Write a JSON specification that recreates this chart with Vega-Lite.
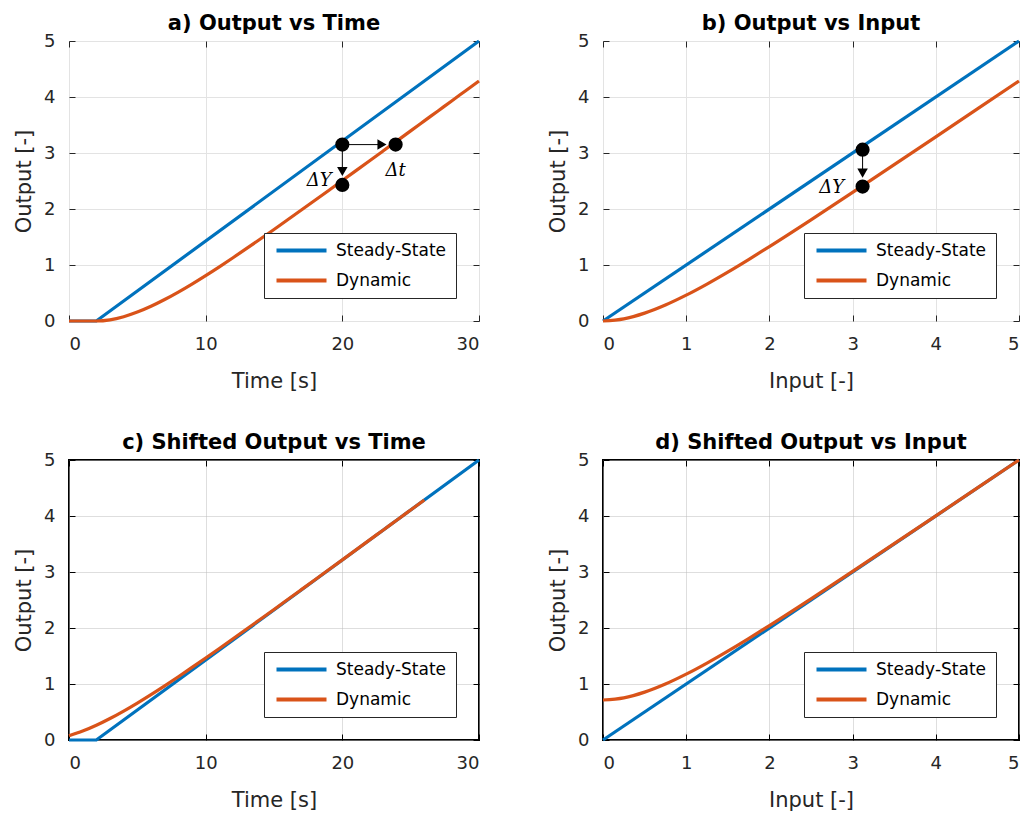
{
  "$schema": "https://vega.github.io/schema/vega-lite/v6.json",
  "padding": {"left": 12, "top": 12, "right": 0, "bottom": 0},
  "background": "white",
  "datasets": {
    "a_ss": [
      {"x": 0, "y": 0, "s": "Steady-State"}, {"x": 2, "y": 0, "s": "Steady-State"}, {"x": 30, "y": 5, "s": "Steady-State"}
    ],
    "a_dyn": [
      {"x": 0, "y": 0, "s": "Dynamic"}, {"x": 1, "y": 0, "s": "Dynamic"}, {"x": 2, "y": 0, "s": "Dynamic"},
      {"x": 3, "y": 0.0206, "s": "Dynamic"}, {"x": 4, "y": 0.0761, "s": "Dynamic"}, {"x": 5, "y": 0.1588, "s": "Dynamic"},
      {"x": 6, "y": 0.2628, "s": "Dynamic"}, {"x": 7, "y": 0.3832, "s": "Dynamic"}, {"x": 8, "y": 0.5165, "s": "Dynamic"},
      {"x": 9, "y": 0.6598, "s": "Dynamic"}, {"x": 10, "y": 0.811, "s": "Dynamic"}, {"x": 11, "y": 0.9681, "s": "Dynamic"},
      {"x": 12, "y": 1.1301, "s": "Dynamic"}, {"x": 13, "y": 1.2957, "s": "Dynamic"}, {"x": 14, "y": 1.4641, "s": "Dynamic"},
      {"x": 15, "y": 1.6348, "s": "Dynamic"}, {"x": 16, "y": 1.8073, "s": "Dynamic"}, {"x": 17, "y": 1.9811, "s": "Dynamic"},
      {"x": 18, "y": 2.1559, "s": "Dynamic"}, {"x": 19, "y": 2.3316, "s": "Dynamic"}, {"x": 20, "y": 2.5079, "s": "Dynamic"},
      {"x": 21, "y": 2.6848, "s": "Dynamic"}, {"x": 22, "y": 2.862, "s": "Dynamic"}, {"x": 23, "y": 3.0395, "s": "Dynamic"},
      {"x": 24, "y": 3.2172, "s": "Dynamic"}, {"x": 25, "y": 3.3951, "s": "Dynamic"}, {"x": 26, "y": 3.5732, "s": "Dynamic"},
      {"x": 27, "y": 3.7514, "s": "Dynamic"}, {"x": 28, "y": 3.9296, "s": "Dynamic"}, {"x": 29, "y": 4.108, "s": "Dynamic"},
      {"x": 30, "y": 4.2864, "s": "Dynamic"}
    ],
    "c_dyn": [
      {"x": 0, "y": 0.0761, "s": "Dynamic"}, {"x": 1, "y": 0.1588, "s": "Dynamic"}, {"x": 2, "y": 0.2628, "s": "Dynamic"},
      {"x": 3, "y": 0.3832, "s": "Dynamic"}, {"x": 4, "y": 0.5165, "s": "Dynamic"}, {"x": 5, "y": 0.6598, "s": "Dynamic"},
      {"x": 6, "y": 0.811, "s": "Dynamic"}, {"x": 7, "y": 0.9681, "s": "Dynamic"}, {"x": 8, "y": 1.1301, "s": "Dynamic"},
      {"x": 9, "y": 1.2957, "s": "Dynamic"}, {"x": 10, "y": 1.4641, "s": "Dynamic"}, {"x": 11, "y": 1.6348, "s": "Dynamic"},
      {"x": 12, "y": 1.8073, "s": "Dynamic"}, {"x": 13, "y": 1.9811, "s": "Dynamic"}, {"x": 14, "y": 2.1559, "s": "Dynamic"},
      {"x": 15, "y": 2.3316, "s": "Dynamic"}, {"x": 16, "y": 2.5079, "s": "Dynamic"}, {"x": 17, "y": 2.6848, "s": "Dynamic"},
      {"x": 18, "y": 2.862, "s": "Dynamic"}, {"x": 19, "y": 3.0395, "s": "Dynamic"}, {"x": 20, "y": 3.2172, "s": "Dynamic"},
      {"x": 21, "y": 3.3951, "s": "Dynamic"}, {"x": 22, "y": 3.5732, "s": "Dynamic"}, {"x": 23, "y": 3.7514, "s": "Dynamic"},
      {"x": 24, "y": 3.9296, "s": "Dynamic"}, {"x": 25, "y": 4.108, "s": "Dynamic"}, {"x": 26, "y": 4.2864, "s": "Dynamic"}
    ],
    "bd_ss": [
      {"x": 0, "y": 0, "s": "Steady-State"}, {"x": 5, "y": 5, "s": "Steady-State"}
    ],
    "b_dyn": [
      {"x": 0, "y": 0, "s": "Dynamic"}, {"x": 0.25, "y": 0.0391, "s": "Dynamic"}, {"x": 0.5, "y": 0.1404, "s": "Dynamic"},
      {"x": 0.75, "y": 0.2857, "s": "Dynamic"}, {"x": 1, "y": 0.4618, "s": "Dynamic"}, {"x": 1.25, "y": 0.6598, "s": "Dynamic"},
      {"x": 1.5, "y": 0.8732, "s": "Dynamic"}, {"x": 1.75, "y": 1.0973, "s": "Dynamic"}, {"x": 2, "y": 1.3291, "s": "Dynamic"},
      {"x": 2.5, "y": 1.8073, "s": "Dynamic"}, {"x": 3, "y": 2.2964, "s": "Dynamic"}, {"x": 3.5, "y": 2.791, "s": "Dynamic"},
      {"x": 4, "y": 3.2883, "s": "Dynamic"}, {"x": 4.5, "y": 3.787, "s": "Dynamic"}, {"x": 5, "y": 4.2864, "s": "Dynamic"}
    ],
    "d_dyn": [
      {"x": 0, "y": 0.7143, "s": "Dynamic"}, {"x": 0.25, "y": 0.7534, "s": "Dynamic"}, {"x": 0.5, "y": 0.8547, "s": "Dynamic"},
      {"x": 0.75, "y": 0.9996, "s": "Dynamic"}, {"x": 1, "y": 1.1761, "s": "Dynamic"}, {"x": 1.25, "y": 1.3741, "s": "Dynamic"},
      {"x": 1.5, "y": 1.5875, "s": "Dynamic"}, {"x": 1.75, "y": 1.8116, "s": "Dynamic"}, {"x": 2, "y": 2.0434, "s": "Dynamic"},
      {"x": 2.5, "y": 2.5216, "s": "Dynamic"}, {"x": 3, "y": 3.0107, "s": "Dynamic"}, {"x": 3.5, "y": 3.5053, "s": "Dynamic"},
      {"x": 4, "y": 4.0026, "s": "Dynamic"}, {"x": 4.5, "y": 4.5013, "s": "Dynamic"}, {"x": 5, "y": 5.0007, "s": "Dynamic"}
    ]
  },
  "columns": 2,
  "spacing": {"row": 139, "column": 124},
  "bounds": "flush",
  "concat": [
    {
      "width": 410, "height": 280,
      "title": "a) Output vs Time",
      "view": {"stroke": "#7a7a7a", "strokeWidth": 1},
      "layer": [
        {
          "data": {"name": "a_ss"},
          "mark": {"type": "line", "strokeWidth": 3.2},
          "encoding": {
            "x": {"field": "x", "type": "quantitative", "scale": {"domain": [0, 30], "nice": false},
                  "axis": {"values": [0, 10, 20, 30], "title": "Time [s]", "gridColor": "#e3e3e3"}},
            "y": {"field": "y", "type": "quantitative", "scale": {"domain": [0, 5], "nice": false},
                  "axis": {"values": [0, 1, 2, 3, 4, 5], "title": "Output [-]", "gridColor": "#e3e3e3"}},
            "color": {"field": "s", "type": "nominal",
                      "scale": {"domain": ["Steady-State", "Dynamic"], "range": ["#0072BD", "#D95319"]},
                      "legend": {"title": null, "symbolType": "M-1,0H9", "symbolSize": 100}}
          }
        },
        {
          "data": {"name": "a_dyn"},
          "mark": {"type": "line", "strokeWidth": 3.2, "interpolate": "monotone"},
          "encoding": {
            "x": {"field": "x", "type": "quantitative", "axis": {"orient": "top", "values": [0, 10, 20, 30], "labels": false, "title": null, "grid": false}},
            "y": {"field": "y", "type": "quantitative", "axis": {"orient": "right", "values": [0, 1, 2, 3, 4, 5], "labels": false, "title": null, "grid": false}},
            "color": {"field": "s", "type": "nominal", "legend": {"title": null, "symbolType": "M-1,0H9", "symbolSize": 100}}
          }
        },
        {
          "data": {"values": [{"x": 20, "y": 3.15, "x2": 22.7, "y2": 3.15}, {"x": 20, "y": 3.15, "x2": 20, "y2": 2.7}]},
          "mark": {"type": "rule", "color": "black", "strokeWidth": 1},
          "encoding": {
            "x": {"field": "x", "type": "quantitative", "axis": null}, "x2": {"field": "x2"},
            "y": {"field": "y", "type": "quantitative", "axis": null}, "y2": {"field": "y2"}
          }
        },
        {
          "data": {"values": [{"x": 22.9, "y": 3.15}]},
          "mark": {"type": "point", "shape": "triangle-right", "filled": true, "color": "black", "opacity": 1, "size": 110},
          "encoding": {"x": {"field": "x", "type": "quantitative", "axis": null}, "y": {"field": "y", "type": "quantitative", "axis": null}}
        },
        {
          "data": {"values": [{"x": 20, "y": 2.67}]},
          "mark": {"type": "point", "shape": "triangle-down", "filled": true, "color": "black", "opacity": 1, "size": 110},
          "encoding": {"x": {"field": "x", "type": "quantitative", "axis": null}, "y": {"field": "y", "type": "quantitative", "axis": null}}
        },
        {
          "data": {"values": [{"x": 20, "y": 3.15}, {"x": 20, "y": 2.43}, {"x": 23.9, "y": 3.15}]},
          "mark": {"type": "circle", "color": "black", "opacity": 1, "size": 200},
          "encoding": {"x": {"field": "x", "type": "quantitative", "axis": null}, "y": {"field": "y", "type": "quantitative", "axis": null}}
        },
        {
          "data": {"values": [{"x": 18.3, "y": 2.5, "t": "ΔY"}, {"x": 23.9, "y": 2.68, "t": "Δt"}]},
          "mark": {"type": "text", "font": "DejaVu Serif", "fontSize": 18, "color": "black", "align": "center", "baseline": "middle", "fontStyle": "italic"},
          "encoding": {"x": {"field": "x", "type": "quantitative", "axis": null}, "y": {"field": "y", "type": "quantitative", "axis": null}, "text": {"field": "t"}}
        }
      ],
      "resolve": {"axis": {"x": "independent", "y": "independent"}}
    },
    {
      "width": 416, "height": 280,
      "title": "b) Output vs Input",
      "view": {"stroke": "#7a7a7a", "strokeWidth": 1},
      "layer": [
        {
          "data": {"name": "bd_ss"},
          "mark": {"type": "line", "strokeWidth": 3.2},
          "encoding": {
            "x": {"field": "x", "type": "quantitative", "scale": {"domain": [0, 5], "nice": false},
                  "axis": {"values": [0, 1, 2, 3, 4, 5], "title": "Input [-]", "gridColor": "#e3e3e3"}},
            "y": {"field": "y", "type": "quantitative", "scale": {"domain": [0, 5], "nice": false},
                  "axis": {"values": [0, 1, 2, 3, 4, 5], "title": "Output [-]", "gridColor": "#e3e3e3"}},
            "color": {"field": "s", "type": "nominal",
                      "scale": {"domain": ["Steady-State", "Dynamic"], "range": ["#0072BD", "#D95319"]},
                      "legend": {"title": null, "symbolType": "M-1,0H9", "symbolSize": 100}}
          }
        },
        {
          "data": {"name": "b_dyn"},
          "mark": {"type": "line", "strokeWidth": 3.2, "interpolate": "monotone"},
          "encoding": {
            "x": {"field": "x", "type": "quantitative", "axis": {"orient": "top", "values": [0, 1, 2, 3, 4, 5], "labels": false, "title": null, "grid": false}},
            "y": {"field": "y", "type": "quantitative", "axis": {"orient": "right", "values": [0, 1, 2, 3, 4, 5], "labels": false, "title": null, "grid": false}},
            "color": {"field": "s", "type": "nominal", "legend": {"title": null, "symbolType": "M-1,0H9", "symbolSize": 100}}
          }
        },
        {
          "data": {"values": [{"x": 3.12, "y": 3.06, "x2": 3.12, "y2": 2.6}]},
          "mark": {"type": "rule", "color": "black", "strokeWidth": 1},
          "encoding": {
            "x": {"field": "x", "type": "quantitative", "axis": null}, "x2": {"field": "x2"},
            "y": {"field": "y", "type": "quantitative", "axis": null}, "y2": {"field": "y2"}
          }
        },
        {
          "data": {"values": [{"x": 3.12, "y": 2.64}]},
          "mark": {"type": "point", "shape": "triangle-down", "filled": true, "color": "black", "opacity": 1, "size": 110},
          "encoding": {"x": {"field": "x", "type": "quantitative", "axis": null}, "y": {"field": "y", "type": "quantitative", "axis": null}}
        },
        {
          "data": {"values": [{"x": 3.12, "y": 3.06}, {"x": 3.12, "y": 2.4}]},
          "mark": {"type": "circle", "color": "black", "opacity": 1, "size": 200},
          "encoding": {"x": {"field": "x", "type": "quantitative", "axis": null}, "y": {"field": "y", "type": "quantitative", "axis": null}}
        },
        {
          "data": {"values": [{"x": 2.75, "y": 2.37, "t": "ΔY"}]},
          "mark": {"type": "text", "font": "DejaVu Serif", "fontSize": 18, "color": "black", "align": "center", "baseline": "middle", "fontStyle": "italic"},
          "encoding": {"x": {"field": "x", "type": "quantitative", "axis": null}, "y": {"field": "y", "type": "quantitative", "axis": null}, "text": {"field": "t"}}
        }
      ],
      "resolve": {"axis": {"x": "independent", "y": "independent"}}
    },
    {
      "width": 410, "height": 280,
      "title": "c) Shifted Output vs Time",
      "view": {"stroke": "#000000", "strokeWidth": 2},
      "layer": [
        {
          "data": {"name": "a_ss"},
          "mark": {"type": "line", "strokeWidth": 3.2},
          "encoding": {
            "x": {"field": "x", "type": "quantitative", "scale": {"domain": [0, 30], "nice": false},
                  "axis": {"values": [0, 10, 20, 30], "title": "Time [s]", "gridColor": "#bdbdbd", "gridDash": [1, 1], "tickColor": "#000"}},
            "y": {"field": "y", "type": "quantitative", "scale": {"domain": [0, 5], "nice": false},
                  "axis": {"values": [0, 1, 2, 3, 4, 5], "title": "Output [-]", "gridColor": "#bdbdbd", "gridDash": [1, 1], "tickColor": "#000"}},
            "color": {"field": "s", "type": "nominal",
                      "scale": {"domain": ["Steady-State", "Dynamic"], "range": ["#0072BD", "#D95319"]},
                      "legend": {"title": null, "symbolType": "M-1,0H9", "symbolSize": 100}}
          }
        },
        {
          "data": {"name": "c_dyn"},
          "mark": {"type": "line", "strokeWidth": 3.2, "interpolate": "monotone"},
          "encoding": {
            "x": {"field": "x", "type": "quantitative", "axis": {"orient": "top", "values": [0, 10, 20, 30], "labels": false, "title": null, "grid": false, "tickColor": "#000"}},
            "y": {"field": "y", "type": "quantitative", "axis": {"orient": "right", "values": [0, 1, 2, 3, 4, 5], "labels": false, "title": null, "grid": false, "tickColor": "#000"}},
            "color": {"field": "s", "type": "nominal", "legend": {"title": null, "symbolType": "M-1,0H9", "symbolSize": 100}}
          }
        }
      ],
      "resolve": {"axis": {"x": "independent", "y": "independent"}}
    },
    {
      "width": 416, "height": 280,
      "title": "d) Shifted Output vs Input",
      "view": {"stroke": "#000000", "strokeWidth": 2},
      "layer": [
        {
          "data": {"name": "bd_ss"},
          "mark": {"type": "line", "strokeWidth": 3.2},
          "encoding": {
            "x": {"field": "x", "type": "quantitative", "scale": {"domain": [0, 5], "nice": false},
                  "axis": {"values": [0, 1, 2, 3, 4, 5], "title": "Input [-]", "gridColor": "#bdbdbd", "gridDash": [1, 1], "tickColor": "#000"}},
            "y": {"field": "y", "type": "quantitative", "scale": {"domain": [0, 5], "nice": false},
                  "axis": {"values": [0, 1, 2, 3, 4, 5], "title": "Output [-]", "gridColor": "#bdbdbd", "gridDash": [1, 1], "tickColor": "#000"}},
            "color": {"field": "s", "type": "nominal",
                      "scale": {"domain": ["Steady-State", "Dynamic"], "range": ["#0072BD", "#D95319"]},
                      "legend": {"title": null, "symbolType": "M-1,0H9", "symbolSize": 100}}
          }
        },
        {
          "data": {"name": "d_dyn"},
          "mark": {"type": "line", "strokeWidth": 3.2, "interpolate": "monotone"},
          "encoding": {
            "x": {"field": "x", "type": "quantitative", "axis": {"orient": "top", "values": [0, 1, 2, 3, 4, 5], "labels": false, "title": null, "grid": false, "tickColor": "#000"}},
            "y": {"field": "y", "type": "quantitative", "axis": {"orient": "right", "values": [0, 1, 2, 3, 4, 5], "labels": false, "title": null, "grid": false, "tickColor": "#000"}},
            "color": {"field": "s", "type": "nominal", "legend": {"title": null, "symbolType": "M-1,0H9", "symbolSize": 100}}
          }
        }
      ],
      "resolve": {"axis": {"x": "independent", "y": "independent"}}
    }
  ],
  "resolve": {"scale": {"color": "independent"}, "legend": {"color": "independent"}},
  "config": {
    "font": "DejaVu Sans",
    "axis": {
      "labelFont": "DejaVu Sans", "labelFontSize": 18, "labelColor": "#262626",
      "titleFont": "DejaVu Sans", "titleFontSize": 21, "titleFontWeight": "normal", "titleColor": "#262626",
      "tickColor": "#262626", "tickSize": -6, "domain": false,
      "labelPadding": 20, "gridWidth": 1
    },
    "axisX": {"titlePadding": 17},
    "axisY": {"titlePadding": 9},
    "title": {"font": "DejaVu Sans", "fontSize": 21, "fontWeight": "bold", "color": "#000000", "anchor": "middle", "offset": -2},
    "legend": {
      "orient": "bottom-right", "offset": 23,
      "strokeColor": "#262626", "fillColor": "#ffffff", "padding": 9,
      "symbolStrokeWidth": 4,
      "labelFont": "DejaVu Sans", "labelFontSize": 17, "labelColor": "#000000",
      "labelOffset": 46, "rowPadding": 12
    }
  }
}
